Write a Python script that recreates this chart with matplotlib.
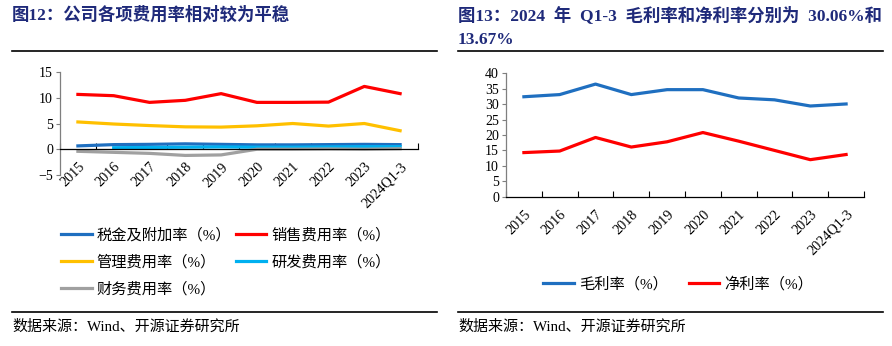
import matplotlib
matplotlib.use("Agg")
import matplotlib.pyplot as plt
from matplotlib.lines import Line2D

FAM = ["Liberation Serif", "Noto Sans CJK SC", "DejaVu Sans"]
plt.rcParams["font.family"] = FAM

categories = ["2015", "2016", "2017", "2018", "2019", "2020", "2021", "2022", "2023", "2024Q1-3"]

# Left chart: expense ratios (%)
tax_rate = [0.65, 0.9, 0.95, 1.05, 0.95, 0.85, 0.85, 0.9, 0.95, 0.9]
sales_rate = [10.65, 10.4, 9.1, 9.5, 10.8, 9.1, 9.1, 9.15, 12.2, 10.8]
admin_rate = [5.3, 4.9, 4.6, 4.35, 4.3, 4.55, 5.0, 4.5, 5.0, 3.6]
rd_rate = [None, 0.3, 0.35, 0.4, 0.45, 0.4, 0.4, 0.45, 0.5, 0.5]
fin_rate = [-0.4, -0.6, -0.8, -1.2, -1.1, 0.0, 0.0, 0.05, 0.0, 0.1]

# Right chart: margins (%)
gross_margin = [32.4, 33.1, 36.5, 33.1, 34.7, 34.7, 32.0, 31.4, 29.4, 30.06]
net_margin = [14.3, 14.8, 19.2, 16.1, 17.8, 20.8, 18.0, 15.0, 12.0, 13.67]

left_title = "图12：公司各项费用率相对较为平稳"
right_title_1 = "图13：2024  年  Q1-3  毛利率和净利率分别为  30.06%和"
right_title_2 = "13.67%"
source = "数据来源：Wind、开源证券研究所"

C_BLUE = "#1F6FC0"
C_RED = "#FF0000"
C_YEL = "#FFC000"
C_LBLUE = "#00B0F0"
C_GRAY = "#A0A0A0"
TITLE_C = "#1F2A7A"

W, H = 892, 346
fig = plt.figure(figsize=(W / 100, H / 100), dpi=100)


def fx(px):
    return px / W


def fy(py):
    return 1 - py / H


def style_axes(ax, n):
    ax.set_xlim(-0.5, n - 0.5)
    for s in ["top", "right"]:
        ax.spines[s].set_visible(False)
    ax.spines["left"].set_color("#7F7F7F")
    ax.spines["left"].set_linewidth(0.9)
    ax.spines["bottom"].set_color("black")
    ax.spines["bottom"].set_linewidth(0.9)
    ax.set_xticks([i + 0.5 for i in range(-1, n)], minor=False)
    ax.set_xticklabels([])
    ax.tick_params(axis="x", which="major", direction="in", length=4, width=0.8)
    ax.set_xticks(range(n), minor=True)
    ax.set_xticklabels(categories, minor=True, rotation=45, ha="right",
                       rotation_mode="anchor", fontsize=10.3, family=FAM)
    ax.tick_params(axis="x", which="minor", length=0, pad=8)
    ax.tick_params(axis="y", direction="out", length=3, width=0.8, labelsize=10,
                   labelcolor="black", color="#7F7F7F", pad=2)
    for lbl in ax.get_yticklabels():
        lbl.set_family(FAM)


x = list(range(len(categories)))
lw = 2.3

# Left axes
axL = fig.add_axes([fx(60), fy(175), fx(418 - 60), (175 - 72) / H])
l1, = axL.plot(x, tax_rate, color=C_BLUE, lw=lw)
l2, = axL.plot(x, sales_rate, color=C_RED, lw=lw)
l3, = axL.plot(x, admin_rate, color=C_YEL, lw=lw)
rd_x = [xi for xi, v in zip(x, rd_rate) if v is not None]
rd_y = [v for v in rd_rate if v is not None]
l4, = axL.plot(rd_x, rd_y, color=C_LBLUE, lw=lw)
l5, = axL.plot(x, fin_rate, color=C_GRAY, lw=lw)
axL.set_ylim(-5, 15)
axL.set_yticks([-5, 0, 5, 10, 15])
axL.spines["bottom"].set_position(("data", 0))
style_axes(axL, len(categories))

# Right axes
axR = fig.add_axes([fx(506), fy(196.7), fx(864 - 506), (196.7 - 73.3) / H])
r1, = axR.plot(x, gross_margin, color=C_BLUE, lw=lw)
r2, = axR.plot(x, net_margin, color=C_RED, lw=lw)
axR.set_ylim(0, 40)
axR.set_yticks(range(0, 41, 5))
style_axes(axR, len(categories))

# Legends
legL = fig.legend([l1, l3, l5, l2, l4],
                  ["税金及附加率（%）", "管理费用率（%）", "财务费用率（%）",
                   "销售费用率（%）", "研发费用率（%）"],
                  ncol=2, loc="upper left", bbox_to_anchor=(fx(61), fy(228)),
                  frameon=False, prop={"family": FAM, "size": 11},
                  handlelength=2.0, handletextpad=0.33, columnspacing=0.3,
                  labelspacing=0.8, borderaxespad=0, borderpad=0)
legR = fig.legend([r1, r2], ["毛利率（%）", "净利率（%）"],
                  ncol=2, loc="upper left", bbox_to_anchor=(fx(543), fy(277)),
                  frameon=False, prop={"family": FAM, "size": 11},
                  handlelength=2.0, handletextpad=0.33, columnspacing=1.4,
                  borderaxespad=0, borderpad=0)

# Titles
fig.text(fx(12), fy(15), left_title, fontsize=12.5, fontweight="bold",
         color=TITLE_C, va="center", ha="left", family=FAM)
fig.text(fx(458), fy(15), right_title_1, fontsize=12.5, fontweight="bold",
         color=TITLE_C, va="center", ha="left", family=FAM)
fig.text(fx(458), fy(40), right_title_2, fontsize=12.5, fontweight="bold",
         color=TITLE_C, va="center", ha="left", family=FAM)

# Separator lines
for x0, x1 in [(12, 437), (458, 883)]:
    fig.add_artist(Line2D([fx(x0), fx(x1)], [fy(51), fy(51)], color="black", lw=1.2))
    fig.add_artist(Line2D([fx(x0), fx(x1)], [fy(312), fy(312)], color="black", lw=1.2))

fig.text(fx(12), fy(327), source, fontsize=10.8, va="center", ha="left", family=FAM)
fig.text(fx(458), fy(327), source, fontsize=10.8, va="center", ha="left", family=FAM)

fig.savefig("out.png", dpi=100)
